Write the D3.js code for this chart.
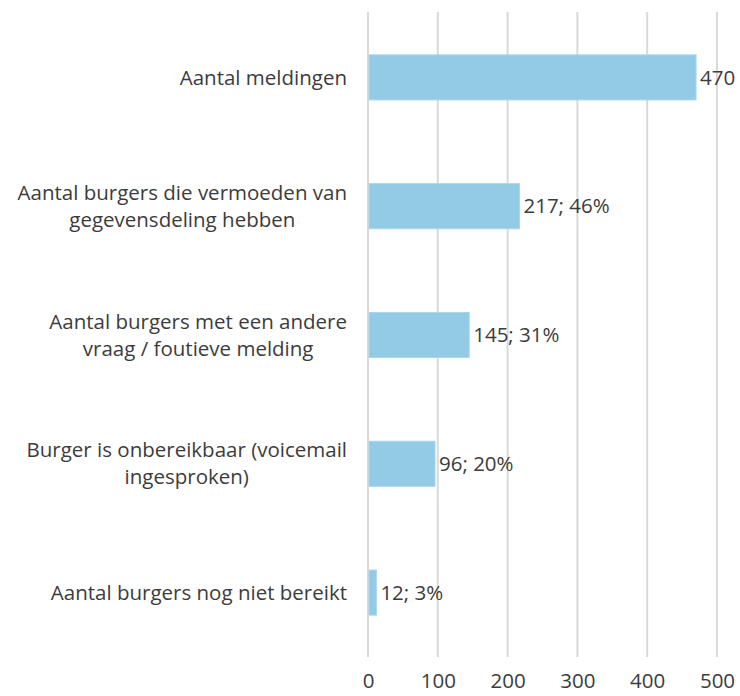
<!DOCTYPE html>
<html><head><meta charset="utf-8">
<script src="https://cdn.jsdelivr.net/npm/d3@7"></script>
<style>body{margin:0;background:#fff}svg{display:block}text{font-family:"Open Sans",sans-serif;fill:#3c3c3c}</style>
</head><body>
<svg id="c" width="740" height="696"></svg>
<script>
const categories = [
  ["Aantal meldingen"],
  ["Aantal burgers die vermoeden van", "gegevensdeling hebben"],
  ["Aantal burgers met een andere", "vraag / foutieve melding"],
  ["Burger is onbereikbaar (voicemail", "ingesproken)"],
  ["Aantal burgers nog niet bereikt"]
];
const values = [470, 217, 145, 96, 12];
const valueLabels = ["470", "217; 46%", "145; 31%", "96; 20%", "12; 3%"];
const ticks = [0, 100, 200, 300, 400, 500];

const svg = d3.select("#c");
const fs = 20.5;
const x = d3.scaleLinear().domain([0, 500]).range([368, 717]);
const y = d3.scaleBand().domain(d3.range(values.length)).range([13, 657]).paddingInner(0.65).paddingOuter(0.325);

// gridlines
svg.append("g").selectAll("line").data(ticks).join("line")
  .attr("x1", d => x(d)).attr("x2", d => x(d))
  .attr("y1", 12).attr("y2", 657)
  .attr("stroke", "#d9d9d9").attr("stroke-width", 2);

// axis labels
const ax = svg.append("g").attr("transform", "translate(0,657)")
  .call(d3.axisBottom(x).tickValues(ticks).tickSize(0).tickPadding(16.5).tickFormat(d3.format("d")));
ax.select(".domain").remove();
ax.selectAll("text").attr("font-size", fs).attr("font-family", null).style("fill", "#3c3c3c");

// bars
svg.append("g").selectAll("rect").data(values).join("rect")
  .attr("x", x(0) + 1).attr("y", (d, i) => y(i))
  .attr("width", d => x(d) - x(0) - 1).attr("height", y.bandwidth())
  .attr("fill", "#93cae6").attr("stroke", "#a9d6ec").attr("stroke-width", 1);

// value labels
svg.append("g").selectAll("text").data(values).join("text")
  .attr("x", d => x(d) + 4).attr("y", (d, i) => y(i) + y.bandwidth() / 2)
  .attr("dy", "0.35em").attr("font-size", fs)
  .text((d, i) => valueLabels[i]);

// category labels
const lh = 27;
const cg = svg.append("g").selectAll("text").data(categories).join("text")
  .attr("text-anchor", "middle").attr("font-size", fs)
  .attr("y", (d, i) => y(i) + y.bandwidth() / 2);
cg.each(function(lines) {
  const t = d3.select(this);
  const n = lines.length;
  lines.forEach((l, k) => {
    t.append("tspan").attr("x", 0).attr("dy", k === 0 ? ((-(n - 1) / 2) * lh / fs + 0.35) + "em" : lh + "px").text(l);
  });
});
cg.each(function() {
  const bb = this.getBBox();
  const cx = 347 - bb.width / 2;
  d3.select(this).selectAll("tspan").attr("x", cx);
});
</script>
</body></html>
